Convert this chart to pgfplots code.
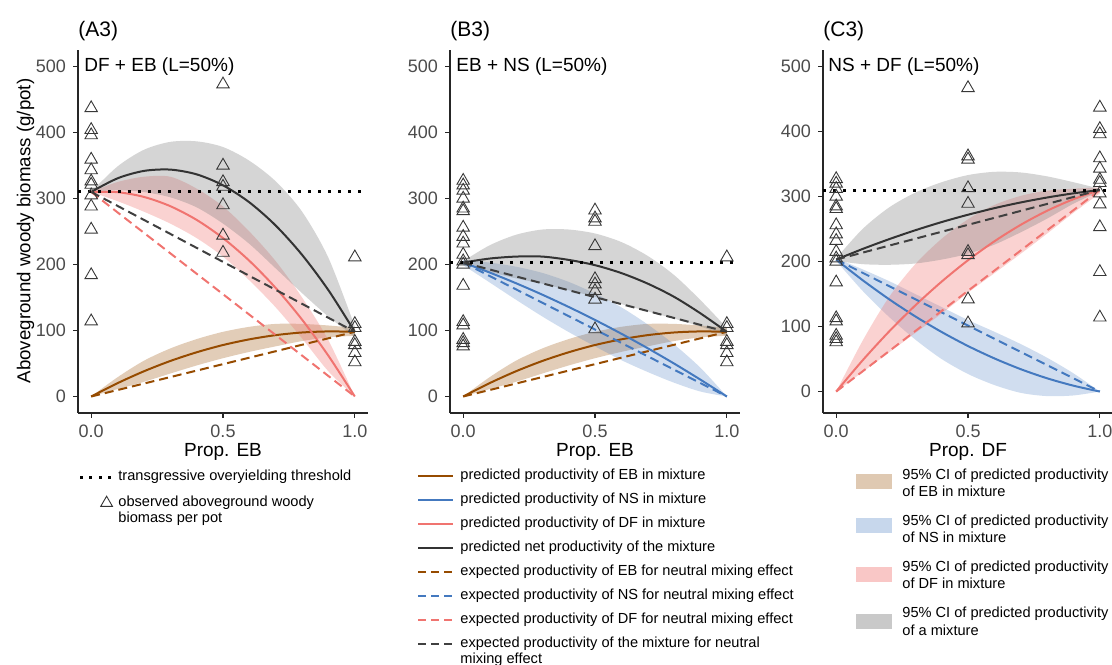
\documentclass[border=0pt]{standalone}
\usepackage{fontspec}
\setmainfont{Liberation Sans}
\usepackage{pgfplots}
\pgfplotsset{compat=1.18}
\usepgfplotslibrary{fillbetween}

\definecolor{cEB}{HTML}{964B00}
\definecolor{cNS}{HTML}{4479BF}
\definecolor{cDF}{HTML}{F07470}
\definecolor{cNet}{HTML}{333333}
\definecolor{cNetD}{HTML}{404040}
\definecolor{bandGray}{HTML}{7F7F7F}

\newcommand{\lgfont}{\fontsize{7.3}{8}\selectfont}
\newcommand{\tkfont}{\fontsize{9}{10}\selectfont}
\newcommand{\anfont}{\fontsize{9.5}{11}\selectfont}

\pgfplotsset{
  panel/.style={
    scale only axis, width=145pt, height=181.5pt,
    xmin=-0.05, xmax=1.05, ymin=-25, ymax=525,
    axis x line*=bottom, axis y line*=left,
    axis line style={-, line width=0.6pt, black!85},
    xtick={0,0.5,1}, xticklabels={0.0,0.5,1.0},
    ytick={0,100,200,300,400,500},
    tick align=outside, major tick length=2.5pt,
    tick style={line width=0.6pt, black!85},
    ticklabel style={font=\tkfont, text=black!70},
    /pgf/number format/assume math mode=true,
  },
  pred/.style={line width=1pt, smooth},
  expd/.style={line width=1pt, dash pattern=on 4.5pt off 2.5pt},
  thr/.style={black, line width=1.5pt, dash pattern=on 1.5pt off 3.5pt},
  obs/.style={only marks, mark=triangle, mark size=3.6pt, mark options={draw=black!78, line width=0.45pt, fill=none}},
  bnd/.style={draw=none, smooth},
}

\begin{document}
\begin{tikzpicture}
% ---------------- Panel A3 : DF + EB ----------------
\begin{axis}[panel, at={(39pt,125.5pt)}, anchor=south west]
\addplot[bnd, name path=ebU] coordinates {(0,0)(0.1,29.2)(0.2,54.2)(0.3,72.8)(0.4,87)(0.5,98)(0.6,105.6)(0.7,110)(0.8,110)(0.9,107.6)(1,104)};
\addplot[bnd, name path=ebL] coordinates {(0,0)(0.1,11.2)(0.2,22.2)(0.3,34.8)(0.4,47)(0.5,58)(0.6,67.6)(0.7,76)(0.8,84)(0.9,89.6)(1,92)};
\addplot[fill=cEB, fill opacity=0.28, draw=none] fill between[of=ebU and ebL];
\addplot[bnd, name path=dfU] coordinates {(0,310)(0.1,325)(0.2,333)(0.3,333)(0.4,315)(0.5,288)(0.6,250)(0.7,205)(0.8,150)(0.9,85)(1,0)};
\addplot[bnd, name path=dfL] coordinates {(0,310)(0.1,296)(0.2,280)(0.3,262)(0.4,240)(0.5,212)(0.6,176)(0.7,135)(0.8,88)(0.9,38)(1,0)};
\addplot[fill=cDF, fill opacity=0.32, draw=none] fill between[of=dfU and dfL];
\addplot[bnd, name path=ntU] coordinates {(0,310)(0.1,348.6)(0.2,373.8)(0.3,385.8)(0.4,386.6)(0.5,378)(0.6,357.2)(0.7,326)(0.8,280)(0.9,210)(1,106)};
\addplot[bnd, name path=ntL] coordinates {(0,310)(0.1,312.6)(0.2,309.8)(0.3,301.8)(0.4,286.6)(0.5,262)(0.6,231.2)(0.7,194)(0.8,156.6)(0.9,121)(1,90)};
\addplot[fill=bandGray, fill opacity=0.33, draw=none] fill between[of=ntU and ntL];
% predicted lines
\addplot[pred, cEB] coordinates {(0,0)(0.1,20.2)(0.2,38.2)(0.3,53.8)(0.4,67)(0.5,78)(0.6,86.6)(0.7,93)(0.8,97)(0.9,98.6)(1,98)};
\addplot[pred, cDF] coordinates {(0,310)(0.1,309.6)(0.2,302.4)(0.3,288.4)(0.4,267.6)(0.5,240)(0.6,205.6)(0.7,164.4)(0.8,116.4)(0.9,61.6)(1,0)};
\addplot[pred, cNet] coordinates {(0,310)(0.1,330.6)(0.2,341.8)(0.3,343.8)(0.4,336.6)(0.5,320)(0.6,294.2)(0.7,259)(0.8,214.6)(0.9,161)(1,98)};
% expected lines
\addplot[expd, cEB] coordinates {(0,0)(1,98)};
\addplot[expd, cDF] coordinates {(0,310)(1,0)};
\addplot[expd, cNetD] coordinates {(0,310)(1,98)};
\addplot[thr] coordinates {(-0.05,310)(1.05,310)};
\addplot[obs] coordinates {
(0,437)(0,404)(0,396)(0,359)(0,343)(0,326)(0,321)(0,305)(0,288)(0,253)(0,184)(0,114)
(0.5,473)(0.5,350)(0.5,325)(0.5,318)(0.5,290)(0.5,244)(0.5,218)
(1,211)(1,110)(1,104)(1,83)(1,78)(1,66)(1,52)};
\end{axis}

% ---------------- Panel B3 : EB + NS ----------------
\begin{axis}[panel, at={(225pt,125.5pt)}, anchor=south west]
\addplot[bnd, name path=ebU] coordinates {(0,0)(0.1,29.2)(0.2,54.2)(0.3,72.8)(0.4,87)(0.5,98)(0.6,105.6)(0.7,110)(0.8,110)(0.9,107.6)(1,104)};
\addplot[bnd, name path=ebL] coordinates {(0,0)(0.1,11.2)(0.2,22.2)(0.3,34.8)(0.4,47)(0.5,58)(0.6,67.6)(0.7,76)(0.8,84)(0.9,89.6)(1,92)};
\addplot[fill=cEB, fill opacity=0.28, draw=none] fill between[of=ebU and ebL];
\addplot[bnd, name path=nsU] coordinates {(0,207)(0.1,202.9)(0.2,196.7)(0.3,187.3)(0.4,173.7)(0.5,156)(0.6,135.1)(0.7,109.1)(0.8,78.9)(0.9,43.5)(1,0)};
\addplot[bnd, name path=nsL] coordinates {(0,199)(0.1,172.9)(0.2,146.7)(0.3,121.3)(0.4,97.7)(0.5,76)(0.6,55.1)(0.7,37.1)(0.8,20.9)(0.9,7.5)(1,0)};
\addplot[fill=cNS, fill opacity=0.25, draw=none] fill between[of=nsU and nsL];
\addplot[bnd, name path=ntU] coordinates {(0,205)(0.1,229)(0.2,245)(0.3,253)(0.4,253)(0.5,247)(0.6,234)(0.7,213)(0.8,184)(0.9,146)(1,104)};
\addplot[bnd, name path=ntL] coordinates {(0,201)(0.1,189)(0.2,179)(0.3,171)(0.4,161)(0.5,151)(0.6,140)(0.7,129)(0.8,118)(0.9,106)(1,92)};
\addplot[fill=bandGray, fill opacity=0.33, draw=none] fill between[of=ntU and ntL];
\addplot[pred, cEB] coordinates {(0,0)(0.1,20.2)(0.2,38.2)(0.3,53.8)(0.4,67)(0.5,78)(0.6,86.6)(0.7,93)(0.8,97)(0.9,98.6)(1,98)};
\addplot[pred, cNS] coordinates {(0,203)(0.1,187.9)(0.2,171.7)(0.3,154.3)(0.4,135.7)(0.5,116)(0.6,95.1)(0.7,73.1)(0.8,49.9)(0.9,25.5)(1,0)};
\addplot[pred, cNet] coordinates {(0,203)(0.1,209)(0.2,212)(0.3,212)(0.4,207)(0.5,199)(0.6,187)(0.7,171)(0.8,151)(0.9,126)(1,98)};
\addplot[expd, cEB] coordinates {(0,0)(1,98)};
\addplot[expd, cNS] coordinates {(0,203)(1,0)};
\addplot[expd, cNetD] coordinates {(0,203)(1,98)};
\addplot[thr] coordinates {(-0.05,203)(1.05,203)};
\addplot[obs] coordinates {
(0,327)(0,320)(0,312)(0,300)(0,285)(0,281)(0,256)(0,242)(0,232)(0,215)(0,205)(0,200)(0,168)(0,113)(0,108)(0,86)(0,81)(0,76)
(0.5,282)(0.5,270)(0.5,265)(0.5,228)(0.5,178)(0.5,170)(0.5,160)(0.5,147)(0.5,102)
(1,211)(1,110)(1,104)(1,83)(1,78)(1,66)(1,52)};
\end{axis}

% ---------------- Panel C3 : NS + DF ----------------
\begin{axis}[panel, at={(411.5pt,125.5pt)}, anchor=south west, ymin=-33, ymax=525.4]
\addplot[bnd, name path=nsU] coordinates {(0,205)(0.1,188)(0.2,170)(0.3,150)(0.4,130)(0.5,110)(0.6,92)(0.7,73)(0.8,52)(0.9,28)(1,0)};
\addplot[bnd, name path=nsL] coordinates {(0,201)(0.1,155)(0.2,115)(0.3,80)(0.4,50)(0.5,27)(0.6,10)(0.7,-2)(0.8,-7)(0.9,-6)(1,0)};
\addplot[fill=cNS, fill opacity=0.25, draw=none] fill between[of=nsU and nsL];
\addplot[bnd, name path=dfU] coordinates {(0,0)(0.1,78)(0.2,145)(0.3,196)(0.4,235)(0.5,265)(0.6,287)(0.7,301)(0.8,309)(0.9,312)(1,314)};
\addplot[bnd, name path=dfL] coordinates {(0,0)(0.1,30)(0.2,60)(0.3,90)(0.4,120)(0.5,152)(0.6,182)(0.7,212)(0.8,243)(0.9,275)(1,305)};
\addplot[fill=cDF, fill opacity=0.32, draw=none] fill between[of=dfU and dfL];
\addplot[bnd, name path=ntU] coordinates {(0,205)(0.1,250)(0.2,283)(0.3,306)(0.4,322)(0.5,333)(0.6,338)(0.7,337)(0.8,331)(0.9,322)(1,312)};
\addplot[bnd, name path=ntL] coordinates {(0,201)(0.1,196)(0.2,195)(0.3,197)(0.4,203)(0.5,212)(0.6,226)(0.7,245)(0.8,266)(0.9,289)(1,308)};
\addplot[fill=bandGray, fill opacity=0.33, draw=none] fill between[of=ntU and ntL];
\addplot[pred, cNS] coordinates {(0,203)(0.1,171.4)(0.2,142.2)(0.3,115.6)(0.4,91.6)(0.5,70)(0.6,51)(0.7,34.4)(0.8,20.4)(0.9,9)(1,0)};
\addplot[pred, cDF] coordinates {(0,0)(0.1,47.9)(0.2,92.1)(0.3,132.5)(0.4,169.1)(0.5,202)(0.6,231.1)(0.7,256.5)(0.8,278.1)(0.9,295.9)(1,310)};
\addplot[pred, cNet] coordinates {(0,203)(0.1,219.3)(0.2,234.3)(0.3,248.1)(0.4,260.7)(0.5,272)(0.6,282.1)(0.7,290.9)(0.8,298.5)(0.9,304.9)(1,310)};
\addplot[expd, cNS] coordinates {(0,203)(1,0)};
\addplot[expd, cDF] coordinates {(0,0)(1,310)};
\addplot[expd, cNetD] coordinates {(0,203)(1,310)};
\addplot[thr] coordinates {(-0.05,310)(1.05,310)};
\addplot[obs] coordinates {
(0,327)(0,320)(0,312)(0,300)(0,285)(0,281)(0,256)(0,242)(0,232)(0,215)(0,205)(0,200)(0,168)(0,113)(0,108)(0,86)(0,81)(0,76)
(0.5,467)(0.5,362)(0.5,357)(0.5,313)(0.5,289)(0.5,215)(0.5,210)(0.5,142)(0.5,105)
(1,437)(1,404)(1,396)(1,359)(1,343)(1,326)(1,321)(1,305)(1,288)(1,253)(1,184)(1,114)};
\end{axis}

% ---------------- titles, annotations, axis titles ----------------
\node[anchor=west, inner sep=0, font=\fontsize{10.5}{12}\selectfont] at (39pt,316.5pt) {(A3)};
\node[anchor=west, inner sep=0, font=\fontsize{10.5}{12}\selectfont] at (225pt,316.5pt) {(B3)};
\node[anchor=west, inner sep=0, font=\fontsize{10.5}{12}\selectfont] at (411.5pt,316.5pt) {(C3)};
\node[anchor=west, inner sep=0, font=\anfont] at (42pt,298.5pt) {DF + EB (L=50\%)};
\node[anchor=west, inner sep=0, font=\anfont] at (228pt,298.5pt) {EB + NS (L=50\%)};
\node[anchor=west, inner sep=0, font=\anfont] at (414pt,298.5pt) {NS + DF (L=50\%)};
\node[inner sep=0, font=\anfont] at (111.5pt,106.25pt) {Prop. EB};
\node[inner sep=0, font=\anfont] at (297.5pt,106.25pt) {Prop. EB};
\node[inner sep=0, font=\anfont] at (484pt,106.25pt) {Prop. DF};
\node[inner sep=0, rotate=90, font=\fontsize{9.35}{11}\selectfont] at (12.75pt,216.5pt) {Aboveground woody biomass (g/pot)};

% ---------------- legend left ----------------
\draw[black, line width=1.5pt, dash pattern=on 1.5pt off 3.2pt] (40pt,93.5pt) -- (55.6pt,93.5pt);
\node[anchor=west, inner sep=0, font=\lgfont] at (59pt,93.5pt) {transgressive overyielding threshold};
\draw[black!80, line width=0.45pt] (53.3pt,83.9pt) -- (50.36pt,78.8pt) -- (56.24pt,78.8pt) -- cycle;
\node[anchor=west, inner sep=0, font=\lgfont] at (59pt,80.5pt) {observed aboveground woody};
\node[anchor=west, inner sep=0, font=\lgfont] at (59pt,72.5pt) {biomass per pot};

% ---------------- legend middle ----------------
\draw[cEB, line width=1pt] (209pt,94pt) -- (226.5pt,94pt);
\node[anchor=west, inner sep=0, font=\lgfont] at (230pt,94pt) {predicted productivity of EB in mixture};
\draw[cNS, line width=1pt] (209pt,82pt) -- (226.5pt,82pt);
\node[anchor=west, inner sep=0, font=\lgfont] at (230pt,82pt) {predicted productivity of NS in mixture};
\draw[cDF, line width=1pt] (209pt,70.25pt) -- (226.5pt,70.25pt);
\node[anchor=west, inner sep=0, font=\lgfont] at (230pt,70.25pt) {predicted productivity of DF in mixture};
\draw[cNet, line width=1pt] (209pt,58.25pt) -- (226.5pt,58.25pt);
\node[anchor=west, inner sep=0, font=\lgfont] at (230pt,58.25pt) {predicted net productivity of the mixture};
\draw[cEB, line width=1pt, dash pattern=on 4pt off 2.5pt] (209pt,46.25pt) -- (226.5pt,46.25pt);
\node[anchor=west, inner sep=0, font=\lgfont] at (230pt,46.25pt) {expected productivity of EB for neutral mixing effect};
\draw[cNS, line width=1pt, dash pattern=on 4pt off 2.5pt] (209pt,34.25pt) -- (226.5pt,34.25pt);
\node[anchor=west, inner sep=0, font=\lgfont] at (230pt,34.25pt) {expected productivity of NS for neutral mixing effect};
\draw[cDF, line width=1pt, dash pattern=on 4pt off 2.5pt] (209pt,22.25pt) -- (226.5pt,22.25pt);
\node[anchor=west, inner sep=0, font=\lgfont] at (230pt,22.25pt) {expected productivity of DF for neutral mixing effect};
\draw[cNetD, line width=1pt, dash pattern=on 4pt off 2.5pt] (209pt,10.25pt) -- (226.5pt,10.25pt);
\node[anchor=west, inner sep=0, font=\lgfont] at (230pt,10.25pt) {expected productivity of the mixture for neutral};
\node[anchor=west, inner sep=0, font=\lgfont] at (230pt,2.25pt) {mixing effect};

% ---------------- legend right ----------------
\fill[cEB, opacity=0.3] (428pt,87.4pt) rectangle (445.75pt,94.9pt);
\node[anchor=west, inner sep=0, font=\lgfont] at (451pt,94pt) {95\% CI of predicted productivity};
\node[anchor=west, inner sep=0, font=\lgfont] at (451pt,86.15pt) {of EB in mixture};
\fill[cNS, opacity=0.3] (428pt,65.35pt) rectangle (445.75pt,72.85pt);
\node[anchor=west, inner sep=0, font=\lgfont] at (451pt,71.15pt) {95\% CI of predicted productivity};
\node[anchor=west, inner sep=0, font=\lgfont] at (451pt,63.35pt) {of NS in mixture};
\fill[cDF, opacity=0.4] (428pt,41pt) rectangle (445.75pt,48.5pt);
\node[anchor=west, inner sep=0, font=\lgfont] at (451pt,48.15pt) {95\% CI of predicted productivity};
\node[anchor=west, inner sep=0, font=\lgfont] at (451pt,40.35pt) {of DF in mixture};
\fill[bandGray, opacity=0.42] (428pt,17.65pt) rectangle (445.75pt,25.15pt);
\node[anchor=west, inner sep=0, font=\lgfont] at (451pt,25pt) {95\% CI of predicted productivity};
\node[anchor=west, inner sep=0, font=\lgfont] at (451pt,17pt) {of a mixture};

\pgfresetboundingbox
\path[use as bounding box] (0,0) rectangle (556pt,332pt);
\end{tikzpicture}
\end{document}
